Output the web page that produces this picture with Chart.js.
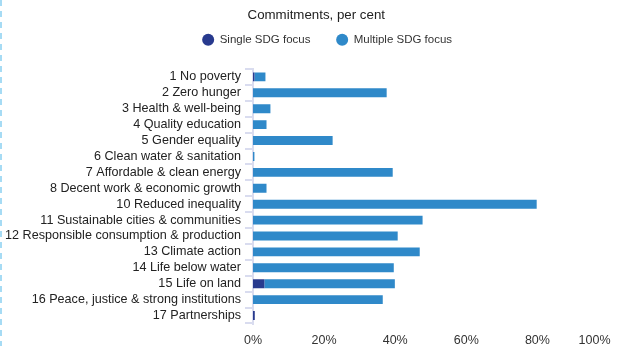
<!DOCTYPE html>
<html>
<head>
<meta charset="utf-8">
<title>Commitments by SDG</title>
<script src="https://cdn.jsdelivr.net/npm/chart.js@4/dist/chart.umd.min.js"></script>
<style>
    html, body { margin: 0; padding: 0; background: #fff; }
    #wrap { position: relative; width: 617px; height: 346px; }
    #edge {
        position: absolute; left: 0; top: 0; width: 2px; height: 346px;
        background: repeating-linear-gradient(to bottom, #a6dbf4 0 6px, transparent 6px 11px);
    }
</style>
</head>
<body>
<div id="wrap">
    <canvas id="sdg-chart" width="617" height="346"></canvas>
    <div id="edge"></div>
</div>
<script>
// goals (there is no 9 in the source chart)
const goals = [
    '1 No poverty', '2 Zero hunger', '3 Health & well-being', '4 Quality education',
    '5 Gender equality', '6 Clean water & sanitation', '7 Affordable & clean energy',
    '8 Decent work & economic growth', '10 Reduced inequality',
    '11 Sustainable cities & communities', '12 Responsible consumption & production',
    '13 Climate action', '14 Life below water', '15 Life on land',
    '16 Peace, justice & strong institutions', '17 Partnerships'
];

// per cent of commitments
const singleFocus   = [0.4, 0, 0, 0, 0, 0, 0, 0, 0, 0, 0, 0, 0, 3.2, 0, 0.5];
const multipleFocus = [3.1, 37.6, 4.9, 3.8, 22.4, 0.4, 39.3, 3.8, 79.8, 47.7, 40.7, 46.9, 39.6, 36.7, 36.5, 0];

const xTicks = [0, 20, 40, 60, 80, 100];

const axisColor = '#d9dcef';

Chart.defaults.font.family = "'Liberation Sans', Arial, sans-serif";

function percentLabel(value) {
    // last label sits inside the canvas in the original, pad it so it shifts left
    if (value === xTicks[xTicks.length - 1]) {
        return value + '%        ';
    }
    return value + '%';
}

// gap under the legend, and title/legend nudged right like the original
const headerLayout = {
    id: 'headerLayout',
    beforeInit: function (chart) {
        const fit = chart.legend.fit;
        chart.legend.fit = function () {
            fit.call(chart.legend);
            this.height += 13.5;
        };
    },
    afterLayout: function (chart) {
        chart.titleBlock.left += 12;
        chart.titleBlock.right += 12;
        chart.legend.left += 23;
        chart.legend.right += 23;
    }
};

function createChart() {
    var ctx = document.getElementById('sdg-chart').getContext('2d');

    new Chart(ctx, {
        type: 'bar',
        data: {
            labels: goals,
            datasets: [{
                label: 'Single SDG focus',
                data: singleFocus,
                backgroundColor: '#283a8e',
                barPercentage: 0.56,
                categoryPercentage: 1
            }, {
                label: 'Multiple SDG focus',
                data: multipleFocus,
                backgroundColor: '#2f89c9',
                barPercentage: 0.56,
                categoryPercentage: 1
            }]
        },
        plugins: [headerLayout],
        options: {
            responsive: false,
            animation: false,
            devicePixelRatio: 1,
            indexAxis: 'y',
            layout: {
                padding: { left: 0, right: 8.5, top: 0, bottom: 0 }
            },
            plugins: {
                title: {
                    display: true,
                    text: 'Commitments, per cent',
                    color: '#222',
                    font: { size: 13.3, weight: 'normal' },
                    padding: { top: 7, bottom: 1 }
                },
                legend: {
                    labels: {
                        usePointStyle: true,
                        pointStyle: 'circle',
                        boxHeight: 8.5,
                        padding: 10,
                        color: '#333',
                        font: { size: 11.5 },
                        generateLabels: function (chart) {
                            const items = Chart.defaults.plugins.legend.labels.generateLabels(chart);
                            items[0].text += '     ';
                            return items;
                        }
                    }
                },
                tooltip: { enabled: false }
            },
            scales: {
                x: {
                    stacked: true,
                    min: 0,
                    max: 100,
                    afterBuildTicks: function (scale) {
                        scale.ticks = xTicks.map(v => ({ value: v }));
                    },
                    afterFit: function (scale) {
                        scale.paddingRight = 0;
                    },
                    ticks: {
                        callback: percentLabel,
                        padding: 0.5,
                        color: '#333',
                        font: { size: 12.5, lineHeight: 0.84 },
                        maxRotation: 0
                    },
                    grid: { display: false, tickLength: 11 },
                    border: { display: false }
                },
                y: {
                    stacked: true,
                    afterFit: function (scale) {
                        scale.width = 253;
                    },
                    grid: {
                        display: true,
                        drawOnChartArea: false,
                        offset: true,
                        tickLength: 8,
                        lineWidth: 2,
                        color: axisColor
                    },
                    border: { display: true, color: axisColor, width: 2 },
                    ticks: {
                        padding: 4,
                        color: '#222',
                        font: { size: 12.6 },
                        autoSkip: false
                    }
                }
            }
        }
    });
}

createChart();
</script>
</body>
</html>
